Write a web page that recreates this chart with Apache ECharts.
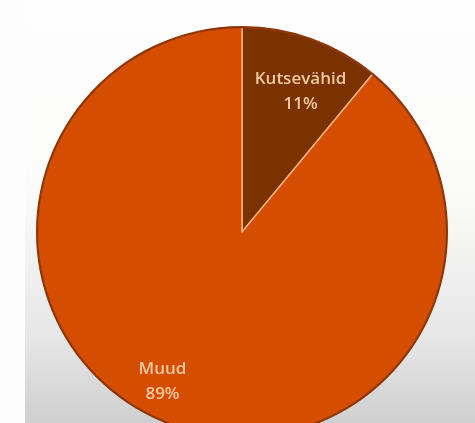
<!DOCTYPE html>
<html><head><meta charset="utf-8">
<script src="https://cdn.jsdelivr.net/npm/echarts@6/dist/echarts.min.js"></script>
<style>
html,body{margin:0;padding:0;width:475px;height:423px;overflow:hidden;}
body{background:linear-gradient(to bottom,#fefefe 0%,#fbfbfa 45%,#e6e6e6 80%,#cfcfcf 100%);}
#strip{position:absolute;left:0;top:0;width:25px;height:423px;background:#fdfdfd;}
#c{position:absolute;left:0;top:0;width:475px;height:423px;}
</style></head>
<body><div id="strip"></div><div id="c"></div>
<script>
var categories = ['Kutsevähid', 'Muud'];
var values = [11, 89];
var colors = ['#7a3300', '#d44d00'];

var data = categories.map(function (c, i) {
  return { name: c, value: values[i], itemStyle: { color: colors[i] } };
});
var plainData = categories.map(function (c, i) {
  return { name: c, value: values[i] };
});
var labelShift = [[6, 5], [-27, 4]];

var chart = echarts.init(document.getElementById('c'), null, { renderer: 'canvas' });
chart.setOption({
  backgroundColor: 'transparent',
  animation: false,
  series: [
    {
      type: 'pie',
      center: [242, 232],
      radius: [0, 205],
      startAngle: 90,
      clockwise: true,
      silent: true,
      data: data,
      label: { show: false },
      labelLine: { show: false },
      itemStyle: { borderColor: '#f3b07e', borderWidth: 1.5 },
      emphasis: { disabled: true }
    },
    {
      type: 'pie',
      center: [242, 232],
      radius: [203.8, 206],
      startAngle: 90,
      clockwise: true,
      silent: true,
      data: plainData,
      label: { show: false },
      labelLine: { show: false },
      itemStyle: { color: '#8e3608', borderWidth: 0 },
      emphasis: { disabled: true }
    },
    {
      type: 'pie',
      center: [242, 232],
      radius: [99, 205],
      startAngle: 90,
      clockwise: true,
      silent: true,
      data: plainData,
      itemStyle: { color: 'rgba(0,0,0,0)', borderWidth: 0 },
      label: {
        show: true,
        position: 'inside',
        formatter: '{b}\n{d}%',
        color: '#f0c9a2',
        fontFamily: 'Open Sans',
        fontWeight: 600,
        fontSize: 17,
        lineHeight: 25
      },
      labelLayout: function (p) {
        return { dx: labelShift[p.dataIndex][0], dy: labelShift[p.dataIndex][1] };
      },
      labelLine: { show: false },
      emphasis: { disabled: true }
    }
  ]
});
</script></body></html>
